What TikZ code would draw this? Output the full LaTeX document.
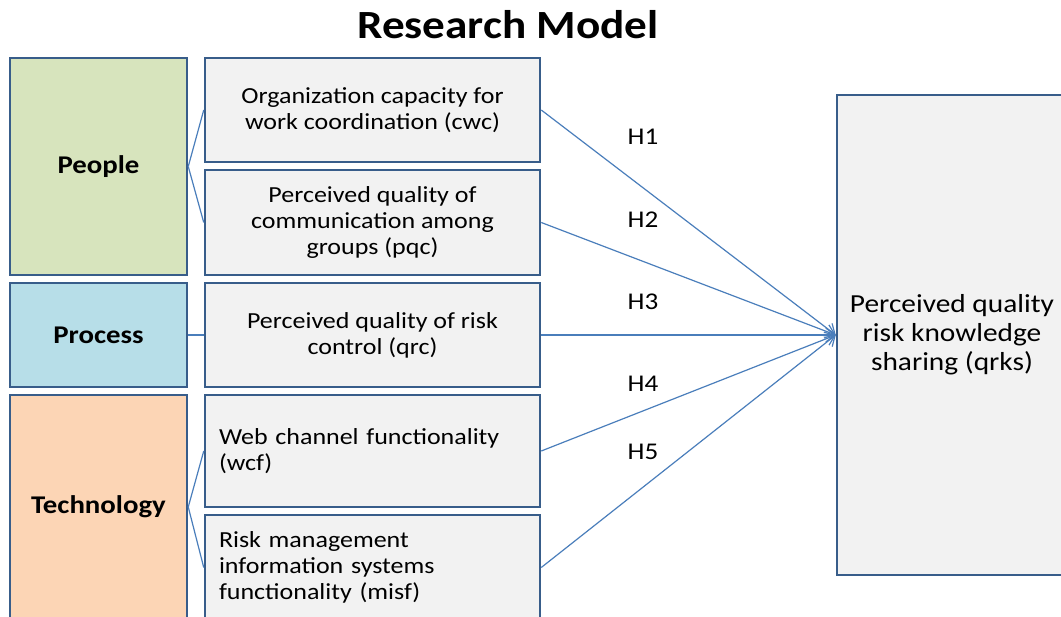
\documentclass[tikz,border=0pt]{standalone}
\usepackage{fontspec}
\setmainfont{Carlito}[FakeStretch=1.13]
\usepackage{tikz}
\usetikzlibrary{arrows.meta}
\usepackage{xcolor}
\definecolor{boxline}{HTML}{385D8A}
\definecolor{linkblue}{HTML}{4A7EBB}
\definecolor{boxgray}{HTML}{F2F2F2}
\definecolor{peoplegreen}{HTML}{D7E4BD}
\definecolor{processblue}{HTML}{B7DEE8}
\definecolor{techorange}{HTML}{FCD5B5}

\begin{document}
\begin{tikzpicture}[x=1pt,y=-1pt,
    box/.style={draw=boxline,line width=2.5pt,fill=boxgray,inner sep=0pt,
      font=\fontsize{23}{26}\selectfont},
    catbox/.style={box,minimum width=177pt,font=\fontsize{25.5}{30}\selectfont\bfseries},
    factor/.style={box,minimum width=335pt,align=center},
    leftfactor/.style={factor,text width=307pt,align=left},
    link/.style={draw=linkblue,line width=1.2pt},
    hyp/.style={font=\fontsize{24}{28}\selectfont}]
  \clip (0,0) rectangle (1061,617);
  \fill[white] (0,0) rectangle (1061,617);
  \node (title) at (508,25) {\fontsize{40}{46}\selectfont\bfseries Research Model};
  % categories
  \node[catbox,fill=peoplegreen,minimum height=217pt] (people) at (98.5,166.5) {People};
  \node[catbox,fill=processblue,minimum height=104pt] (process) at (98.5,335) {Process};
  \node[catbox,fill=techorange,minimum height=224pt] (tech) at (98.5,507) {Technology};
  % factors
  \node[factor,minimum height=104pt] (cwc) at (372.5,110) {Organization capacity for\\work coordination (cwc)};
  \node[factor,minimum height=105pt] (pqc) at (372.5,222.5) {Perceived quality of\\communication among\\groups (pqc)};
  \node[factor,minimum height=104pt] (qrc) at (372.5,335) {Perceived quality of risk\\control (qrc)};
  \node[leftfactor,minimum height=112pt] (wcf) at (372.5,451) {Web channel functionality\\(wcf)};
  \node[leftfactor,minimum height=105pt] (misf) at (372.5,567.5) {Risk management\\information systems\\functionality (misf)};
  \node[box,minimum width=230pt,minimum height=480pt,align=center,
    font=\fontsize{26}{29}\selectfont] (qrks) at (952,335) {Perceived quality\\risk knowledge\\sharing (qrks)};
  % category links
  \draw[link] (people.east) -- (cwc.west);
  \draw[link] (people.east) -- (pqc.west);
  \draw[link] (process.east) -- (qrc.west);
  \draw[link] (tech.east) -- (wcf.west);
  \draw[link] (tech.east) -- (misf.west);
  % hypotheses
  \foreach \f in {cwc,pqc,qrc,wcf,misf}
    \draw[link,-{Straight Barb[length=9pt,width=14pt,line width=1.2pt]}] (\f.east) -- (qrks.west);
  \node[hyp] (h1) at (643,137) {H1};
  \node[hyp] (h2) at (643,220) {H2};
  \node[hyp] (h3) at (643,302) {H3};
  \node[hyp] (h4) at (643,384) {H4};
  \node[hyp] (h5) at (643,452) {H5};
\end{tikzpicture}
\end{document}
